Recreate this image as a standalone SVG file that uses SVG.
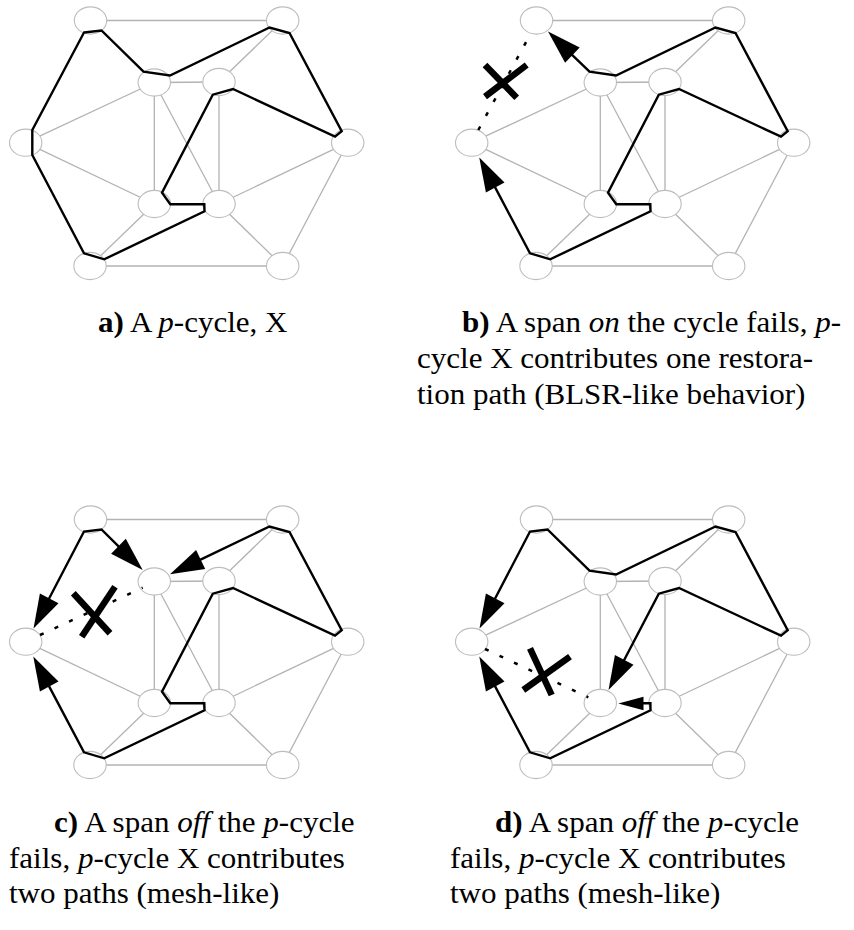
<svg xmlns="http://www.w3.org/2000/svg" width="854" height="930" viewBox="0 0 854 930">
<style>
.span{stroke:#b3b3b3;stroke-width:1.3;fill:none}
.node ellipse{fill:#fff;stroke:#bdbdbd;stroke-width:1.1}
.cyc{stroke:#000;stroke-width:2.4;fill:none;stroke-linejoin:miter}
.arr{fill:#000;stroke:none}
.fail{stroke:#000;stroke-width:2.5;stroke-dasharray:4 12;fill:none}
.x{stroke:#000;stroke-width:6.5;stroke-linecap:butt}
.cap{font-family:"Liberation Serif","Times New Roman",serif;font-size:29px;fill:#000}
.b{font-weight:bold}
.i{font-style:italic}
</style>

<!-- ===== Diagram a ===== -->
<g id="diagram-a">
<g id="a-spans">
<line class="span" x1="90.5" y1="20.5" x2="282.7" y2="20.5"/>
<line class="span" x1="90" y1="266" x2="282.7" y2="266"/>
<line class="span" x1="154.3" y1="82.5" x2="219" y2="82"/>
<line class="span" x1="154.3" y1="82.5" x2="154.3" y2="204"/>
<line class="span" x1="219" y1="82" x2="219" y2="204"/>
<line class="span" x1="154.3" y1="82.5" x2="219" y2="204"/>
<line class="span" x1="25.7" y1="142.7" x2="154.3" y2="82.5"/>
<line class="span" x1="25.7" y1="142.7" x2="154.3" y2="204"/>
<line class="span" x1="347.7" y1="142.7" x2="219" y2="204"/>
<line class="span" x1="282.7" y1="20.5" x2="219" y2="82"/>
<line class="span" x1="282.7" y1="266" x2="219" y2="204"/>
<line class="span" x1="282.7" y1="266" x2="347.7" y2="142.7"/>
<line class="span" x1="90" y1="266" x2="154.3" y2="204"/>
</g>
<g id="a-TL" class="node"><ellipse cx="90.5" cy="20.5" rx="16.2" ry="13.6"/></g>
<g id="a-TR" class="node"><ellipse cx="282.7" cy="20.5" rx="16.2" ry="13.6"/></g>
<g id="a-iLT" class="node"><ellipse cx="154.3" cy="82.5" rx="16.2" ry="13.6"/></g>
<g id="a-iRT" class="node"><ellipse cx="219" cy="82" rx="16.2" ry="13.6"/></g>
<g id="a-L" class="node"><ellipse cx="25.7" cy="142.7" rx="16.2" ry="13.6"/></g>
<g id="a-R" class="node"><ellipse cx="347.7" cy="142.7" rx="16.2" ry="13.6"/></g>
<g id="a-iLB" class="node"><ellipse cx="154.3" cy="204" rx="16.2" ry="13.6"/></g>
<g id="a-iRB" class="node"><ellipse cx="219" cy="204" rx="16.2" ry="13.6"/></g>
<g id="a-BL" class="node"><ellipse cx="90" cy="266" rx="16.2" ry="13.6"/></g>
<g id="a-BR" class="node"><ellipse cx="282.7" cy="266" rx="16.2" ry="13.6"/></g>
<g id="a-cycle">
<path class="cyc" d="M84,32.5 L101.5,30.5 L143.5,71.7 L170,75.5 L269.5,27.5 L289.5,33 L341.7,131.3 L335,136.7 L233,89 L212.8,94.7 L162,192.7 L170.3,204.2 L204.3,204.2 L204.5,211.3 L104.2,259.3 L84,253.3 L32.3,155 L32.3,130 Z"/>
</g>
</g>

<!-- ===== Diagram b ===== -->
<g id="diagram-b" transform="translate(446,0)">
<g id="b-spans">
<line class="span" x1="90.5" y1="20.5" x2="282.7" y2="20.5"/>
<line class="span" x1="90" y1="266" x2="282.7" y2="266"/>
<line class="span" x1="154.3" y1="82.5" x2="219" y2="82"/>
<line class="span" x1="154.3" y1="82.5" x2="154.3" y2="204"/>
<line class="span" x1="219" y1="82" x2="219" y2="204"/>
<line class="span" x1="154.3" y1="82.5" x2="219" y2="204"/>
<line class="span" x1="25.7" y1="142.7" x2="154.3" y2="82.5"/>
<line class="span" x1="25.7" y1="142.7" x2="154.3" y2="204"/>
<line class="span" x1="347.7" y1="142.7" x2="219" y2="204"/>
<line class="span" x1="282.7" y1="20.5" x2="219" y2="82"/>
<line class="span" x1="282.7" y1="266" x2="219" y2="204"/>
<line class="span" x1="282.7" y1="266" x2="347.7" y2="142.7"/>
<line class="span" x1="90" y1="266" x2="154.3" y2="204"/>
</g>
<g id="b-TL" class="node"><ellipse cx="90.5" cy="20.5" rx="16.2" ry="13.6"/></g>
<g id="b-TR" class="node"><ellipse cx="282.7" cy="20.5" rx="16.2" ry="13.6"/></g>
<g id="b-iLT" class="node"><ellipse cx="154.3" cy="82.5" rx="16.2" ry="13.6"/></g>
<g id="b-iRT" class="node"><ellipse cx="219" cy="82" rx="16.2" ry="13.6"/></g>
<g id="b-L" class="node"><ellipse cx="25.7" cy="142.7" rx="16.2" ry="13.6"/></g>
<g id="b-R" class="node"><ellipse cx="347.7" cy="142.7" rx="16.2" ry="13.6"/></g>
<g id="b-iLB" class="node"><ellipse cx="154.3" cy="204" rx="16.2" ry="13.6"/></g>
<g id="b-iRB" class="node"><ellipse cx="219" cy="204" rx="16.2" ry="13.6"/></g>
<g id="b-BL" class="node"><ellipse cx="90" cy="266" rx="16.2" ry="13.6"/></g>
<g id="b-BR" class="node"><ellipse cx="282.7" cy="266" rx="16.2" ry="13.6"/></g>
<g id="b-cycle">
<line class="fail" x1="32.3" y1="130" x2="85.7" y2="31.7"/>
<line class="x" x1="39" y1="65" x2="70.7" y2="97.7"/>
<line class="x" x1="80.7" y1="65" x2="39" y2="96.7"/>
<path class="cyc" d="M124.25,53.06 L143.5,71.7 L170,75.5 L269.5,27.5 L289.5,33 L341.7,131.3 L335,136.7 L233,89 L212.8,94.7 L162,192.7 L170.3,204.2 L204.3,204.2 L204.5,211.3 L104.2,259.3 L84,253.3 L47.8,184.9"/>
<polygon class="arr" points="102,31.5 133.7,47.6 119.1,62.7"/>
<polygon class="arr" points="33.3,157.5 58.5,182.6 39.9,192.5"/>
</g>
</g>

<!-- ===== Diagram c ===== -->
<g id="diagram-c" transform="translate(0,499)">
<g id="c-spans">
<line class="span" x1="90.5" y1="20.5" x2="282.7" y2="20.5"/>
<line class="span" x1="90" y1="266" x2="282.7" y2="266"/>
<line class="span" x1="154.3" y1="82.5" x2="219" y2="82"/>
<line class="span" x1="154.3" y1="82.5" x2="154.3" y2="204"/>
<line class="span" x1="219" y1="82" x2="219" y2="204"/>
<line class="span" x1="154.3" y1="82.5" x2="219" y2="204"/>
<line class="span" x1="25.7" y1="142.7" x2="154.3" y2="204"/>
<line class="span" x1="347.7" y1="142.7" x2="219" y2="204"/>
<line class="span" x1="282.7" y1="20.5" x2="219" y2="82"/>
<line class="span" x1="282.7" y1="266" x2="219" y2="204"/>
<line class="span" x1="282.7" y1="266" x2="347.7" y2="142.7"/>
<line class="span" x1="90" y1="266" x2="154.3" y2="204"/>
</g>
<g id="c-TL" class="node"><ellipse cx="90.5" cy="20.5" rx="16.2" ry="13.6"/></g>
<g id="c-TR" class="node"><ellipse cx="282.7" cy="20.5" rx="16.2" ry="13.6"/></g>
<g id="c-iLT" class="node"><ellipse cx="154.3" cy="82.5" rx="16.2" ry="13.6"/></g>
<g id="c-iRT" class="node"><ellipse cx="219" cy="82" rx="16.2" ry="13.6"/></g>
<g id="c-L" class="node"><ellipse cx="25.7" cy="142.7" rx="16.2" ry="13.6"/></g>
<g id="c-R" class="node"><ellipse cx="347.7" cy="142.7" rx="16.2" ry="13.6"/></g>
<g id="c-iLB" class="node"><ellipse cx="154.3" cy="204" rx="16.2" ry="13.6"/></g>
<g id="c-iRB" class="node"><ellipse cx="219" cy="204" rx="16.2" ry="13.6"/></g>
<g id="c-BL" class="node"><ellipse cx="90" cy="266" rx="16.2" ry="13.6"/></g>
<g id="c-BR" class="node"><ellipse cx="282.7" cy="266" rx="16.2" ry="13.6"/></g>
<g id="c-cycle">
<line class="fail" x1="40" y1="136" x2="142.7" y2="88.7"/>
<line class="x" x1="73.3" y1="94.3" x2="110" y2="134.3"/>
<line class="x" x1="115" y1="87.7" x2="81.7" y2="137.7"/>
<path class="cyc" d="M120.6,49.27 L101.5,30.5 L84,32.5 L47.8,102"/>
<path class="cyc" d="M197.95,61.88 L269.5,27.5 L289.5,33 L341.7,131.3 L335,136.7 L233,89 L212.8,94.7 L162,192.7 L170.3,204.2 L204.3,204.2 L204.5,211.3 L104.2,259.3 L84,253.3 L47.8,184.9"/>
<polygon class="arr" points="142.7,71 111.1,54.66 125.8,39.68"/>
<polygon class="arr" points="170,75.3 196.1,51.1 205.2,70"/>
<polygon class="arr" points="33.5,129.5 39.9,94.5 58.5,104.2"/>
<polygon class="arr" points="33.3,157.5 58.5,182.6 39.9,192.5"/>
</g>
</g>

<!-- ===== Diagram d ===== -->
<g id="diagram-d" transform="translate(446,499)">
<g id="d-spans">
<line class="span" x1="90.5" y1="20.5" x2="282.7" y2="20.5"/>
<line class="span" x1="90" y1="266" x2="282.7" y2="266"/>
<line class="span" x1="154.3" y1="82.5" x2="219" y2="82"/>
<line class="span" x1="154.3" y1="82.5" x2="154.3" y2="204"/>
<line class="span" x1="219" y1="82" x2="219" y2="204"/>
<line class="span" x1="154.3" y1="82.5" x2="219" y2="204"/>
<line class="span" x1="25.7" y1="142.7" x2="154.3" y2="82.5"/>
<line class="span" x1="347.7" y1="142.7" x2="219" y2="204"/>
<line class="span" x1="282.7" y1="20.5" x2="219" y2="82"/>
<line class="span" x1="282.7" y1="266" x2="219" y2="204"/>
<line class="span" x1="282.7" y1="266" x2="347.7" y2="142.7"/>
<line class="span" x1="90" y1="266" x2="154.3" y2="204"/>
</g>
<g id="d-TL" class="node"><ellipse cx="90.5" cy="20.5" rx="16.2" ry="13.6"/></g>
<g id="d-TR" class="node"><ellipse cx="282.7" cy="20.5" rx="16.2" ry="13.6"/></g>
<g id="d-iLT" class="node"><ellipse cx="154.3" cy="82.5" rx="16.2" ry="13.6"/></g>
<g id="d-iRT" class="node"><ellipse cx="219" cy="82" rx="16.2" ry="13.6"/></g>
<g id="d-L" class="node"><ellipse cx="25.7" cy="142.7" rx="16.2" ry="13.6"/></g>
<g id="d-R" class="node"><ellipse cx="347.7" cy="142.7" rx="16.2" ry="13.6"/></g>
<g id="d-iLB" class="node"><ellipse cx="154.3" cy="204" rx="16.2" ry="13.6"/></g>
<g id="d-iRB" class="node"><ellipse cx="219" cy="204" rx="16.2" ry="13.6"/></g>
<g id="d-BL" class="node"><ellipse cx="90" cy="266" rx="16.2" ry="13.6"/></g>
<g id="d-BR" class="node"><ellipse cx="282.7" cy="266" rx="16.2" ry="13.6"/></g>
<g id="d-cycle">
<line class="fail" x1="39" y1="150" x2="142.3" y2="198.3"/>
<line class="x" x1="84" y1="149.3" x2="105.7" y2="196"/>
<line class="x" x1="124" y1="157.7" x2="77.3" y2="191"/>
<path class="cyc" d="M47.8,102 L84,32.5 L101.5,30.5 L143.5,71.7 L170,75.5 L269.5,27.5 L289.5,33 L341.7,131.3 L335,136.7 L233,89 L212.8,94.7 L176.85,163.53"/>
<path class="cyc" d="M196,204.3 L204.4,204.3 L204.5,211.3 L104.2,259.3 L84,253.3 L47.8,184.9"/>
<polygon class="arr" points="33.5,129.5 39.9,94.5 58.5,104.2"/>
<polygon class="arr" points="33.3,157.5 58.5,182.6 39.9,192.5"/>
<polygon class="arr" points="162.5,191 168.9,156 187.5,165.7"/>
<polygon class="arr" points="172.3,204.5 197.5,197.8 197.5,211.2"/>
</g>
</g>

<!-- ===== Captions ===== -->
<g id="captions" class="cap">
<text transform="translate(98,332) scale(1.07,1)"><tspan class="b">a)</tspan> A <tspan class="i">p</tspan>-cycle, X</text>
<text transform="translate(462,332) scale(1.07,1)"><tspan class="b">b)</tspan> A span <tspan class="i">on</tspan> the cycle fails, <tspan class="i">p</tspan>-</text>
<text transform="translate(417,368) scale(1.07,1)">cycle X contributes one restora-</text>
<text transform="translate(417,403.5) scale(1.07,1)">tion path (BLSR-like behavior)</text>
<text transform="translate(54,832) scale(1.07,1)"><tspan class="b">c)</tspan> A span <tspan class="i">off</tspan> the <tspan class="i">p</tspan>-cycle</text>
<text transform="translate(9,867.5) scale(1.07,1)">fails, <tspan class="i">p</tspan>-cycle X contributes</text>
<text transform="translate(9,903) scale(1.07,1)">two paths (mesh-like)</text>
<text transform="translate(495,832) scale(1.07,1)"><tspan class="b">d)</tspan> A span <tspan class="i">off</tspan> the <tspan class="i">p</tspan>-cycle</text>
<text transform="translate(450,867.5) scale(1.07,1)">fails, <tspan class="i">p</tspan>-cycle X contributes</text>
<text transform="translate(450,903) scale(1.07,1)">two paths (mesh-like)</text>
</g>
</svg>
